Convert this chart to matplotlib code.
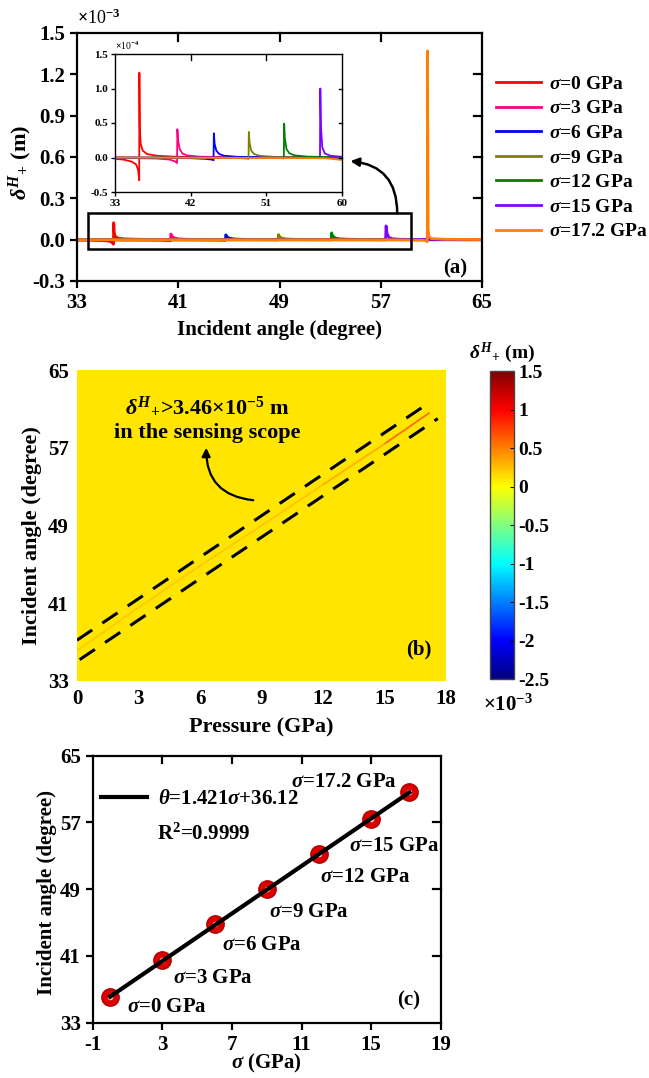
import numpy as np
import matplotlib
matplotlib.use('Agg')
import matplotlib.pyplot as plt
from matplotlib.colors import LinearSegmentedColormap, Normalize
from matplotlib.collections import LineCollection
from matplotlib.patches import Rectangle
from matplotlib.cm import ScalarMappable

plt.rcParams['font.family'] = ['Liberation Serif', 'DejaVu Serif']
plt.rcParams['font.weight'] = 'bold'
plt.rcParams['axes.labelweight'] = 'bold'
plt.rcParams['mathtext.fontset'] = 'custom'
plt.rcParams['mathtext.rm'] = 'Liberation Serif:bold'
plt.rcParams['mathtext.it'] = 'Liberation Serif:italic:bold'
plt.rcParams['mathtext.bf'] = 'Liberation Serif:bold'
plt.rcParams['axes.unicode_minus'] = False

# ---------------- data ----------------
# stress levels and resonance angles (panel c)
sigma = [0, 3, 6, 9, 12, 15, 17.2]
theta_res = [36.12, 40.55, 44.85, 49.0, 53.2, 57.4, 60.6]
sigma_labels = ['0', '3', '6', '9', '12', '15', '17.2']
colors = ['#FF0000', '#FF0080', '#0000FF', '#808000', '#008000', '#8000FF', '#FF8000']

# delta^H_+ curves (units of 1e-4 m) vs incident angle (degree)
ang_0 = [33.0, 34.0, 35.0, 35.5, 35.75, 35.88, 35.9, 35.95, 36.05, 36.3, 36.8, 38.0, 40.0, 45.0, 55.0, 65.0]
val_0 = [-0.02, -0.03, -0.06, -0.10, -0.18, -0.33, 1.23, 0.45, 0.20, 0.10, 0.05, 0.025, 0.012, 0.005, 0.002, 0.0]
ang_3 = [33.0, 38.0, 39.5, 40.1, 40.38, 40.42, 40.5, 40.7, 41.0, 41.6, 43.0, 46.0, 55.0, 65.0]
val_3 = [-0.005, -0.015, -0.03, -0.055, -0.08, 0.41, 0.25, 0.12, 0.06, 0.03, 0.012, 0.005, 0.001, 0.0]
ang_6 = [33.0, 42.0, 43.8, 44.5, 44.72, 44.76, 44.85, 45.05, 45.4, 46.0, 47.5, 52.0, 65.0]
val_6 = [-0.002, -0.01, -0.02, -0.03, -0.04, 0.35, 0.20, 0.10, 0.05, 0.025, 0.01, 0.003, 0.0]
ang_9 = [33.0, 46.0, 48.0, 48.7, 48.88, 48.92, 49.0, 49.2, 49.55, 50.2, 51.8, 56.0, 65.0]
val_9 = [-0.001, -0.005, -0.01, -0.015, -0.02, 0.37, 0.22, 0.10, 0.05, 0.025, 0.01, 0.003, 0.0]
ang_12 = [33.0, 50.0, 52.2, 52.9, 53.08, 53.12, 53.2, 53.4, 53.75, 54.4, 56.0, 60.0, 65.0]
val_12 = [-0.001, -0.004, -0.007, -0.01, -0.012, 0.49, 0.28, 0.12, 0.06, 0.03, 0.012, 0.004, 0.0]
ang_15 = [33.0, 54.0, 56.5, 57.2, 57.38, 57.42, 57.5, 57.65, 57.95, 58.6, 60.0, 65.0]
val_15 = [-0.001, -0.003, -0.006, -0.008, -0.01, 1.00, 0.45, 0.15, 0.06, 0.025, 0.01, 0.0]
ang_17 = [33.0, 58.0, 60.3, 60.6, 60.68, 60.7, 60.74, 60.8, 61.0, 62.0, 65.0]
val_17 = [0.0, -0.01, -0.04, -0.08, -0.15, 13.7, 0.8, 0.25, 0.08, 0.03, 0.01]

curves_ang = [ang_0, ang_3, ang_6, ang_9, ang_12, ang_15, ang_17]
curves_val = [val_0, val_3, val_6, val_9, val_12, val_15, val_17]

# panel (b): map background level and ridge level (units of 1e-3 m)
map_bg = 0.1
ridge_val = [0.3, 0.3, 0.3, 0.3, 0.35, 0.5, 1.0]
upper_dash_p = [0.0, 16.8]
upper_dash_t = [37.2, 61.1]
lower_dash_p = [0.13, 17.6]
lower_dash_t = [35.2, 60.0]

# MATLAB-like jet
jet = LinearSegmentedColormap.from_list('mjet', [
    (0.0, (0, 0, 0.5)), (0.125, (0, 0, 1)), (0.375, (0, 1, 1)),
    (0.625, (1, 1, 0)), (0.875, (1, 0, 0)), (1.0, (0.5, 0, 0))])
norm = Normalize(-2.5, 1.5)

W, H = 649, 1078
fig = plt.figure(figsize=(W / 100, H / 100), dpi=100)

def px_axes(l, t, r, b):
    return fig.add_axes([l / W, 1 - b / H, (r - l) / W, (b - t) / H])

# ---------------- panel (a) ----------------
ax_a = px_axes(77, 33, 482, 281)
for i in range(len(sigma)):
    ax_a.plot(curves_ang[i], np.array(curves_val[i]) / 10.0, color=colors[i], lw=2,
              label=r'$\sigma$=' + sigma_labels[i] + ' GPa')
ax_a.set_xlim(33, 65)
ax_a.set_ylim(-0.3, 1.5)
ax_a.set_xticks([33, 41, 49, 57, 65])
ax_a.set_yticks([-0.3, 0.0, 0.3, 0.6, 0.9, 1.2, 1.5])
ax_a.set_yticklabels(['-0.3', '0.0', '0.3', '0.6', '0.9', '1.2', '1.5'])
for s in ax_a.spines.values():
    s.set_linewidth(1.6)
ax_a.tick_params(axis='both', width=1.6, length=5, labelsize=15, direction='out')
for x in [41, 49, 57]:
    ax_a.plot([x, x], [1.5, 1.44], color='k', lw=1.6, clip_on=False)
for y in [1.2, 0.9, 0.6, 0.3]:
    ax_a.plot([65, 64.4], [y, y], color='k', lw=1.6, clip_on=False)
ax_a.set_xlabel('Incident angle (degree)', fontsize=15)
ax_a.set_ylabel(r'$\delta^{H}{}_{+}$ (m)', fontsize=16)
ax_a.xaxis.set_label_coords(0.5, -0.198)
ax_a.yaxis.set_label_coords(-0.141, 0.48)
ax_a.xaxis.label.set_va('center')
ax_a.yaxis.label.set_va('center')
ax_a.text(0.0, 1.06, r'$\times$10$^{-3}$', transform=ax_a.transAxes, fontsize=13,
          fontweight='normal', ha='left', va='center')
ax_a.text(0.935, 0.05, '(a)', transform=ax_a.transAxes, fontsize=15, ha='center', va='center')
ax_a.add_patch(Rectangle((33.87, -0.067), 25.5, 0.261, fill=False, lw=1.8, ec='k', zorder=5))
ax_a.annotate('', xy=(54.6, 0.57), xytext=(58.3, 0.194),
              arrowprops=dict(arrowstyle='-|>,head_length=0.5,head_width=0.25', color='k', lw=1.8,
                              connectionstyle='arc3,rad=0.45', shrinkA=0, shrinkB=0))
leg = ax_a.legend(loc='upper left', bbox_to_anchor=(1.035, 0.83), frameon=False, fontsize=14,
                  handlelength=2.3, labelspacing=0.36, borderaxespad=0, borderpad=0,
                  handletextpad=0.4)

# inset
ax_i = px_axes(115, 54, 342, 192)
for i in range(len(sigma)):
    ax_i.plot(curves_ang[i], curves_val[i], color=colors[i], lw=1.3)
ax_i.set_xlim(33, 60)
ax_i.set_ylim(-0.5, 1.5)
ax_i.set_xticks([33, 42, 51, 60])
ax_i.set_yticks([-0.5, 0.0, 0.5, 1.0, 1.5])
ax_i.set_yticklabels(['-0.5', '0.0', '0.5', '1.0', '1.5'])
for s in ax_i.spines.values():
    s.set_linewidth(1.0)
ax_i.tick_params(axis='both', width=1.0, length=3, labelsize=8, direction='out', pad=2)
for x in [42, 51]:
    ax_i.plot([x, x], [1.5, 1.42], color='k', lw=1.0, clip_on=False)
for y in [1.0, 0.5, 0.0]:
    ax_i.plot([60, 59.6], [y, y], color='k', lw=1.0, clip_on=False)
ax_i.text(0.0, 1.06, r'$\times$10$^{-4}$', transform=ax_i.transAxes, fontsize=7,
          fontweight='normal', ha='left', va='center')

# ---------------- panel (b) ----------------
ax_b = px_axes(77, 370, 446, 681)
ax_b.pcolormesh([0, 18], [33, 65], [[map_bg]], cmap=jet, norm=norm)
pts = np.column_stack([sigma, theta_res])
segs = [pts[i:i + 2] for i in range(len(pts) - 1)]
lc = LineCollection(segs, colors=[jet(norm(v)) for v in ridge_val[1:]], lw=1.2, alpha=0.55)
ax_b.add_collection(lc)
ax_b.plot(upper_dash_p, upper_dash_t, color='k', lw=2.2, dashes=(6, 4))
ax_b.plot(lower_dash_p, lower_dash_t, color='k', lw=2.2, dashes=(6, 4))
ax_b.set_xlim(0, 18)
ax_b.set_ylim(33, 65)
ax_b.set_xticks([0, 3, 6, 9, 12, 15, 18])
ax_b.set_yticks([33, 41, 49, 57, 65])
for s in ax_b.spines.values():
    s.set_visible(False)
ax_b.tick_params(axis='both', length=0, labelsize=15, pad=6)
ax_b.set_xlabel('Pressure (GPa)', fontsize=16)
ax_b.set_ylabel('Incident angle (degree)', fontsize=16)
ax_b.xaxis.set_label_coords(0.5, -0.148)
ax_b.yaxis.set_label_coords(-0.122, 0.469)
ax_b.xaxis.label.set_va('center')
ax_b.yaxis.label.set_va('center')
ax_b.text(6.37, 61.2, r'$\delta^{H}{}_{+}$>3.46$\times$10$^{-5}$ m', fontsize=16, ha='center', va='center')
ax_b.text(6.37, 58.5, 'in the sensing scope', fontsize=16, ha='center', va='center')
ax_b.annotate('', xy=(6.3, 57.0), xytext=(8.6, 51.6),
              arrowprops=dict(arrowstyle='-|>,head_length=0.5,head_width=0.25', color='k', lw=1.6,
                              connectionstyle='arc3,rad=-0.45', shrinkA=0, shrinkB=0))
ax_b.text(0.925, 0.1, '(b)', transform=ax_b.transAxes, fontsize=15, ha='center', va='center')

cax = px_axes(490, 371, 514, 679)
cb = fig.colorbar(ScalarMappable(norm=norm, cmap=jet), cax=cax)
cb.set_ticks([-2.5, -2, -1.5, -1, -0.5, 0, 0.5, 1, 1.5])
cb.set_ticklabels(['-2.5', '-2', '-1.5', '-1', '-0.5', '0', '0.5', '1', '1.5'])
cb.outline.set_edgecolor('#444444')
cb.outline.set_linewidth(1.0)
cax.tick_params(direction='in', length=3, width=0.8, labelsize=14, pad=3)
cax.text(0.5, 1.06, r'$\delta^{H}{}_{+}$ (m)', transform=cax.transAxes, fontsize=14,
         ha='center', va='center')
cax.text(0.75, -0.085, r'$\times$10$^{-3}$', transform=cax.transAxes, fontsize=15,
         ha='center', va='center')

# ---------------- panel (c) ----------------
ax_c = px_axes(92.7, 755.7, 440.7, 1022.7)
ax_c.plot(sigma, theta_res, 'o', ms=12.5, mfc='#DD0000', mec='#B00000', mew=1.0, zorder=3)
ax_c.plot(sigma, theta_res, 'o', ms=4, mfc='#FFC8C8', mec='none', zorder=4)
fit_line, = ax_c.plot([sigma[0], sigma[-1]], [theta_res[0], theta_res[-1]], color='k', lw=3, zorder=5,
                      label=r'$\theta$=1.421$\sigma$+36.12')
label_off = [(17, -10), (11, -18), (7, -21), (2, -23), (1, -23), (-22, -27), (-12, 10)]
label_ha = ['left', 'left', 'left', 'left', 'left', 'left', 'right']
for i in range(len(sigma)):
    ax_c.annotate(r'$\sigma$=' + sigma_labels[i] + ' GPa', (sigma[i], theta_res[i]),
                  xytext=label_off[i], textcoords='offset pixels', ha=label_ha[i], va='center',
                  fontsize=15)
ax_c.set_xlim(-1, 19)
ax_c.set_ylim(33, 65)
ax_c.set_xticks([-1, 3, 7, 11, 15, 19])
ax_c.set_yticks([33, 41, 49, 57, 65])
for s in ax_c.spines.values():
    s.set_linewidth(1.6)
ax_c.tick_params(axis='both', width=1.6, length=5, labelsize=15, direction='out')
for x in [3, 7, 11, 15]:
    ax_c.plot([x, x], [65, 64.1], color='k', lw=1.6, clip_on=False)
for y in [41, 49, 57]:
    ax_c.plot([19, 18.55], [y, y], color='k', lw=1.6, clip_on=False)
ax_c.set_xlabel(r'$\sigma$ (GPa)', fontsize=15)
ax_c.set_ylabel('Incident angle (degree)', fontsize=15)
ax_c.xaxis.set_label_coords(0.5, -0.151)
ax_c.yaxis.set_label_coords(-0.131, 0.486)
ax_c.xaxis.label.set_va('center')
ax_c.yaxis.label.set_va('center')
ax_c.legend(handles=[fit_line], loc='upper left', bbox_to_anchor=(0.025, 0.875), frameon=False,
            fontsize=15, handlelength=2.2, handletextpad=0.5, borderpad=0, borderaxespad=0)
ax_c.text(0.185, 0.705, r'R$^{2}$=0.9999', transform=ax_c.transAxes, fontsize=15,
          ha='left', va='center')
ax_c.text(0.908, 0.083, '(c)', transform=ax_c.transAxes, fontsize=15, ha='center', va='center')

fig.savefig('out.png', dpi=100)
